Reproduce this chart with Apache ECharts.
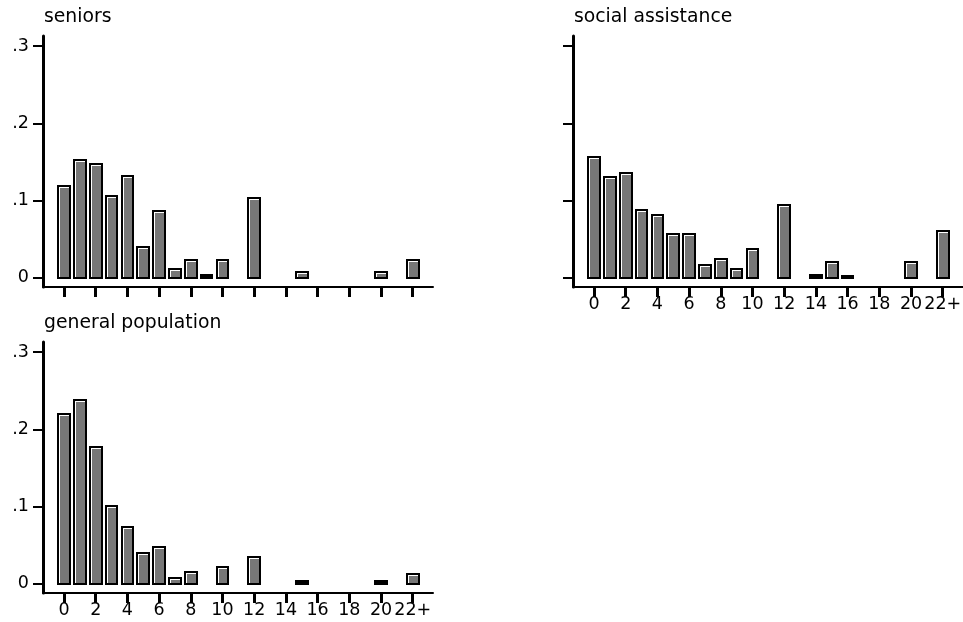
<!DOCTYPE html>
<html>
<head>
<meta charset="utf-8">
<script src="https://cdn.jsdelivr.net/npm/echarts@6/dist/echarts.min.js"></script>
<style>html,body{margin:0;padding:0;background:#fff;}#chart{width:963px;height:622px;}</style>
</head>
<body>
<div id="chart"></div>
<script>
// ---- data (fraction per number of visits; bins 0..22, last bin = 22+) ----
const bins = [0,1,2,3,4,5,6,7,8,9,10,11,12,13,14,15,16,17,18,19,20,21,22];
const xTickValues = [0,2,4,6,8,10,12,14,16,18,20,22];
const xTickLabels = ['0','2','4','6','8','10','12','14','16','18','20','22+'];
const yTickValues = [0, 0.1, 0.2, 0.3];
const yTickLabels = ['0', '.1', '.2', '.3'];
const panelTitles = ['seniors', 'social assistance', 'general population'];
const seniors = [0.119,0.152,0.147,0.106,0.132,0.040,0.087,0.011,0.023,0.004,0.023,0,0.103,0,0,0.007,0,0,0,0,0.007,0,0.023];
const socialAssistance = [0.156,0.130,0.135,0.088,0.081,0.057,0.057,0.016,0.024,0.011,0.037,0,0.094,0,0.004,0.021,0.002,0,0,0,0.021,0,0.060];
const generalPopulation = [0.220,0.238,0.177,0.101,0.073,0.040,0.047,0.008,0.015,0,0.022,0,0.035,0,0,0.004,0,0,0,0,0.004,0,0.012];

// ---- styling ----
const FONT = 'DejaVu Sans';
const HALF = 0.43;
const grids = [
  {left: 43, top: 36, width: 390, height: 251},
  {left: 573, top: 36, width: 390, height: 251},
  {left: 43, top: 342, width: 390, height: 251}
];
const showXLabels = [false, true, true];
const showYLabels = [true, false, true];
const seriesValues = [seniors, socialAssistance, generalPopulation];

function renderBar(params, api) {
  const x = api.value(0), v = api.value(1);
  const tl = api.coord([x - HALF, v]);
  const br = api.coord([x + HALF, 0]);
  const L = Math.round(tl[0]), R = Math.round(br[0]);
  const T = Math.round(tl[1]) - 1, B = Math.round(br[1]) + 1;
  const children = [{type: 'rect', shape: {x: L, y: T, width: R - L, height: B - T}, style: {fill: '#000'}}];
  if (B - T > 5) {
    children.push({type: 'rect', shape: {x: L + 2, y: T + 2, width: R - L - 4, height: B - T - 4}, style: {fill: '#fff'}});
    children.push({type: 'rect', shape: {x: L + 3, y: T + 3, width: R - L - 5, height: B - T - 5}, style: {fill: '#777777'}});
  }
  return {type: 'group', children: children};
}

const titleTops = [8, 8, 314];
const option = {
  animation: false,
  backgroundColor: '#fff',
  title: panelTitles.map((t, i) => ({
    text: t, left: grids[i].left + 1, top: titleTops[i], padding: 0,
    textStyle: {fontFamily: FONT, fontSize: 18.8, fontWeight: 'normal', color: '#000'}
  })),
  grid: grids.map(g => Object.assign({containLabel: false, outerBoundsMode: 'none'}, g)),
  xAxis: grids.map((g, i) => ({
    type: 'value', gridIndex: i, min: -1.325, max: 23.28,
    splitLine: {show: false},
    axisLine: {show: true, onZero: false, lineStyle: {color: '#000', width: 2}},
    axisTick: {show: true, length: 10, customValues: xTickValues, lineStyle: {color: '#000', width: 3}},
    axisLabel: {show: showXLabels[i], customValues: xTickValues, margin: 8,
      formatter: v => xTickLabels[xTickValues.indexOf(v)],
      fontFamily: FONT, fontSize: 17.5, color: '#000'}
  })),
  yAxis: grids.map((g, i) => ({
    type: 'value', gridIndex: i, min: -0.012, max: 0.313,
    splitLine: {show: false},
    axisLine: {show: true, onZero: false, lineStyle: {color: '#000', width: 3}},
    axisTick: {show: true, length: 10, customValues: yTickValues, lineStyle: {color: '#000', width: 2}},
    axisLabel: {show: showYLabels[i], customValues: yTickValues, margin: 14,
      formatter: v => yTickLabels[yTickValues.indexOf(v)],
      fontFamily: FONT, fontSize: 17.5, color: '#000'}
  })),
  series: seriesValues.map((vals, i) => ({
    type: 'custom', xAxisIndex: i, yAxisIndex: i, clip: false,
    renderItem: renderBar,
    data: bins.map((b, k) => [b, vals[k]]).filter(d => d[1] > 0)
  }))
};
const chart = echarts.init(document.getElementById('chart'), null, {renderer: 'canvas'});
chart.setOption(option);
</script>
</body>
</html>
